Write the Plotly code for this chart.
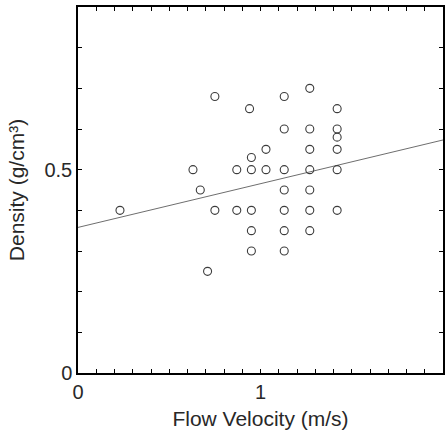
import plotly.graph_objects as go

# flow velocity (m/s) and density (g/cm3)
velocity = [0.23, 0.63, 0.67, 0.75, 0.75, 0.71, 0.87, 0.87, 0.94, 0.95, 0.95, 0.95, 0.95, 0.95,
            1.03, 1.03, 1.13, 1.13, 1.13, 1.13, 1.13, 1.13, 1.13,
            1.27, 1.27, 1.27, 1.27, 1.27, 1.27, 1.27,
            1.42, 1.42, 1.42, 1.42, 1.42, 1.42]
density = [0.40, 0.50, 0.45, 0.68, 0.40, 0.25, 0.50, 0.40, 0.65, 0.53, 0.50, 0.40, 0.35, 0.30,
           0.55, 0.50, 0.68, 0.60, 0.50, 0.45, 0.40, 0.35, 0.30,
           0.70, 0.60, 0.55, 0.50, 0.45, 0.40, 0.35,
           0.65, 0.60, 0.58, 0.55, 0.50, 0.40]

# regression line end points
fit_x = [0, 2]
fit_y = [0.358, 0.573]

x_tick_vals = [i / 10 for i in range(0, 21)]
x_tick_text = ['0' if v == 0 else '1' if v == 1 else '2' if v == 2 else '' for v in x_tick_vals]
y_tick_vals = [i / 10 for i in range(0, 10)]
y_tick_text = ['0' if v == 0 else '0.5' if v == 0.5 else '' for v in y_tick_vals]

fig = go.Figure()
fig.add_trace(go.Scatter(
    x=fit_x, y=fit_y,
    mode='lines',
    line=dict(color='rgb(110,110,110)', width=1),
    showlegend=False
))
fig.add_trace(go.Scatter(
    x=velocity, y=density,
    mode='markers',
    marker=dict(symbol='circle-open', size=8, color='rgb(60,60,60)', line=dict(width=1.1)),
    showlegend=False
))

axis_font = dict(family='Liberation Sans, Arial, sans-serif', size=20, color='rgb(40,40,40)')
title_font = dict(family='Liberation Sans, Arial, sans-serif', size=21, color='rgb(40,40,40)')
fig.update_xaxes(
    range=[0, 2],
    tickvals=x_tick_vals,
    ticktext=x_tick_text,
    ticks='inside',
    ticklen=4,
    tickwidth=1.2,
    tickcolor='black',
    showline=True,
    linecolor='black',
    linewidth=1.5,
    mirror='ticks',
    showgrid=False,
    zeroline=False,
    automargin=False,
    tickfont=axis_font,
    title=dict(text='Flow Velocity (m/s)', font=title_font, standoff=10),
)
fig.update_yaxes(
    range=[0, 0.9],
    tickvals=y_tick_vals,
    ticktext=y_tick_text,
    ticks='inside',
    ticklen=4,
    tickwidth=1.2,
    tickcolor='black',
    showline=True,
    linecolor='black',
    linewidth=1.5,
    mirror='ticks',
    showgrid=False,
    zeroline=False,
    automargin=False,
    tickfont=axis_font,
    title=dict(text='Density (g/cm³)', font=title_font, standoff=14),
)
fig.update_layout(
    width=447, height=432,
    margin=dict(l=78, r=4, t=7, b=59),
    plot_bgcolor='white',
    paper_bgcolor='white',
)

# drop the default 8px body margin so the figure fills the window exactly
fig.write_html("out.html", config={'displayModeBar': False},
               post_script="document.body.style.margin = '0';")
